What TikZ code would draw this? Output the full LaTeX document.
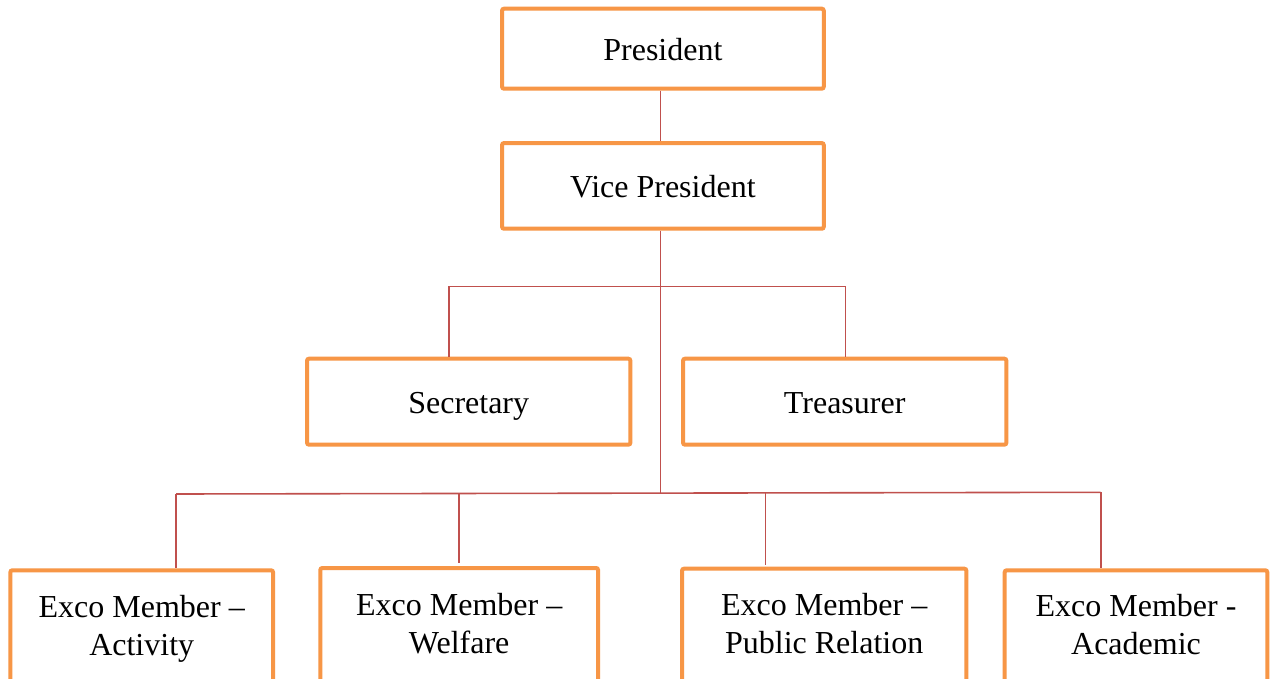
\documentclass[tikz,border=0pt]{standalone}
\usepackage{fontspec}
\setmainfont{Liberation Serif}
\definecolor{boxorange}{HTML}{F79646}
\definecolor{linered}{HTML}{C0504D}
\begin{document}
\begin{tikzpicture}[x=1pt,y=-1pt,
  box/.style={draw=boxorange, line width=4pt, rounded corners=2pt, fill=white,
    inner sep=0pt, align=center, font=\fontsize{32}{38}\selectfont},
  onebox/.style={box, text height=23pt, text depth=0pt},
  conn/.style={draw=linered, line width=1.6pt}]
\useasboundingbox (0,0) rectangle (1270,679);
\clip (0,0) rectangle (1270,679);
\fill[white] (0,0) rectangle (1270,679);

% nodes
\node[onebox, minimum width=321.7pt, minimum height=80pt] (pres) at (662.9,48.7) {President};
\node[onebox, minimum width=321.7pt, minimum height=85.7pt] (vp) at (662.9,185.9) {Vice President};
\node[onebox, minimum width=323.3pt, minimum height=86pt] (sec) at (468.7,401.7) {Secretary};
\node[onebox, minimum width=323.3pt, minimum height=86pt] (tre) at (844.7,401.7) {Treasurer};
\node[box, minimum width=262.7pt, minimum height=116.2pt] (act) at (141.7,628.4) {\strut Exco Member –\\\strut Activity};
\node[box, minimum width=277.7pt, minimum height=116.8pt] (wel) at (459.2,626.4) {\strut Exco Member –\\\strut Welfare};
\node[box, minimum width=284.3pt, minimum height=115.4pt] (pr) at (824.2,626.4) {\strut Exco Member –\\\strut Public Relation};
\node[box, minimum width=262.6pt, minimum height=115.8pt] (aca) at (1136,628.2) {\strut Exco Member -\\\strut Academic};

% junction coordinates
\coordinate (j1) at (660.5,286.5);
\coordinate (j2) at (660.5,493.2);
\coordinate (s1) at (449,286.5);
\coordinate (t1) at (845.5,286.5);
\coordinate (bl) at (176,494);
\coordinate (br) at (1100.7,492.3);
\coordinate (w0) at (458.7,493.5);
\coordinate (w1) at (458.7,563);
\coordinate (p0) at (765.3,492.9);
\coordinate (p1) at (765.3,565);

% connectors
\draw[conn] (pres.south -| j1) -- (vp.north -| j1);
\draw[conn] (vp.south -| j1) -- (j2);
\draw[conn] (sec.north -| s1) |- (j1) -| (tre.north -| t1);
\draw[conn] (bl) -- (br);
\draw[conn] (bl) -- (act.north -| bl);
\draw[conn] (w0) -- (w1);
\draw[conn] (p0) -- (p1);
\draw[conn] (br) -- (aca.north -| br);
\end{tikzpicture}
\end{document}
